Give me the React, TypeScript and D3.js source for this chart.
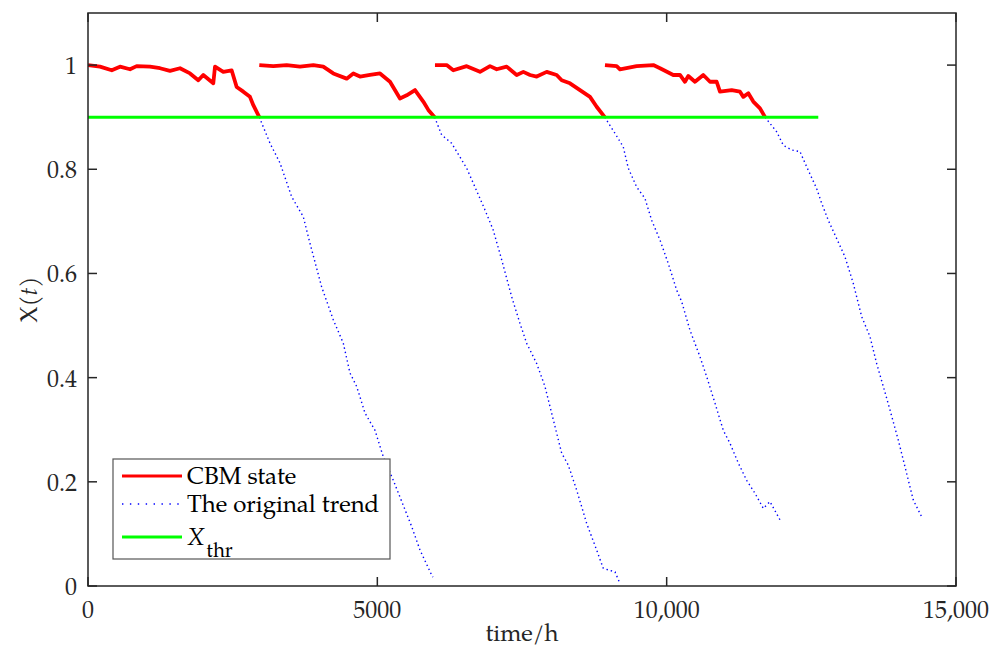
import React from "react";
import * as d3 from "d3";

type P = [number, number];

// CBM state (red), four maintenance cycles
const cbm1: P[] = [[0,1.0],[207,0.997],[410,0.99],[553,0.997],[726,0.992],[841,0.998],[1071,0.997],[1244,0.994],[1417,0.989],[1590,0.994],[1763,0.984],[1906,0.971],[1992,0.981],[2165,0.965],[2195,0.997],[2338,0.987],[2482,0.99],[2569,0.958],[2684,0.949],[2799,0.939],[2857,0.923],[2960,0.9]];
const cbm2: P[] = [[2960,1.0],[3202,0.998],[3433,1.0],[3663,0.997],[3894,1.0],[4066,0.997],[4239,0.984],[4470,0.974],[4585,0.984],[4700,0.978],[4873,0.981],[5046,0.984],[5219,0.968],[5391,0.936],[5507,0.942],[5651,0.952],[5794,0.93],[5881,0.914],[5990,0.9]];
const cbm3: P[] = [[5996,1.0],[6198,1.0],[6313,0.99],[6544,0.998],[6774,0.987],[6947,0.998],[7063,0.992],[7235,0.997],[7408,0.981],[7523,0.987],[7639,0.981],[7754,0.978],[7927,0.987],[8099,0.981],[8186,0.971],[8329,0.965],[8502,0.952],[8675,0.939],[8790,0.92],[8930,0.9]];
const cbm4: P[] = [[8934,1.0],[9136,0.998],[9193,0.992],[9481,0.998],[9769,1.0],[9885,0.994],[10114,0.981],[10230,0.981],[10316,0.968],[10374,0.979],[10489,0.968],[10633,0.981],[10749,0.968],[10864,0.968],[10921,0.949],[11123,0.952],[11267,0.949],[11325,0.939],[11411,0.946],[11497,0.93],[11613,0.917],[11700,0.9]];

// The original trend (blue dotted)
const trend1: P[] = [[2960,0.9],[3145,0.85],[3318,0.812],[3520,0.747],[3720,0.709],[3836,0.658],[4038,0.574],[4239,0.511],[4412,0.466],[4527,0.409],[4643,0.383],[4787,0.332],[4959,0.299],[5103,0.248],[5276,0.203],[5594,0.114],[5737,0.069],[5939,0.021],[5961,0.017]];
const trend2: P[] = [[5990,0.9],[6111,0.866],[6284,0.85],[6544,0.802],[6687,0.766],[6860,0.722],[7004,0.683],[7149,0.626],[7322,0.555],[7465,0.504],[7581,0.466],[7754,0.427],[7897,0.383],[8041,0.319],[8186,0.255],[8300,0.232],[8445,0.184],[8618,0.12],[8790,0.069],[8904,0.034],[9107,0.027],[9193,0.005]];
const trend3: P[] = [[8930,0.9],[9107,0.869],[9250,0.843],[9337,0.802],[9481,0.766],[9625,0.744],[9741,0.702],[9885,0.664],[10028,0.619],[10173,0.568],[10259,0.546],[10403,0.491],[10576,0.44],[10691,0.402],[10835,0.351],[10978,0.299],[11094,0.274],[11238,0.236],[11382,0.203],[11526,0.178],[11670,0.149],[11785,0.162],[11958,0.127]];
const trend4: P[] = [[11700,0.9],[11901,0.872],[12016,0.846],[12160,0.837],[12303,0.834],[12447,0.798],[12592,0.763],[12678,0.735],[12793,0.702],[12909,0.674],[13081,0.632],[13225,0.581],[13370,0.517],[13513,0.479],[13629,0.427],[13744,0.383],[13859,0.338],[14003,0.28],[14118,0.229],[14262,0.165],[14406,0.133]];

// Threshold X_thr
const threshold: P[] = [[0,0.9],[12620,0.9]];

const xTicks = [0, 5000, 10000, 15000];
const xTickLabels = ["0", "5000", "10,000", "15,000"];
const yTicks = [0, 0.2, 0.4, 0.6, 0.8, 1];
const yTickLabels = ["0", "0.2", "0.4", "0.6", "0.8", "1"];

const W = 1001, H = 652;
const L = 88, R = 956, T = 13, B = 586;
const FONT = "'TeX Gyre Pagella'";
const AX = "#262626";
const txt: React.CSSProperties = { fontFamily: FONT, fontSize: "24px" };

export default function App() {
  const x = d3.scaleLinear().domain([0, 15000]).range([L, R]);
  const y = d3.scaleLinear().domain([0, 1.1]).range([B, T]);
  const line = d3.line<P>().x(d => x(d[0])).y(d => y(d[1]));
  const cbm = [cbm1, cbm2, cbm3, cbm4];
  const trends = [trend1, trend2, trend3, trend4];
  const tickLen = 9;

  const lx0 = 122, lx1 = 182, ltx = 187;
  const ly = [476, 504, 537];

  return (
    <svg width={W} height={H} style={{ position: "absolute", left: 0, top: 0, background: "#fff" }}>
      <defs>
        <clipPath id="plot">
          <rect x={L} y={T} width={R - L} height={B - T} />
        </clipPath>
      </defs>
      <rect x={0} y={0} width={W} height={H} fill="#fff" />
      <g clipPath="url(#plot)">
        {trends.map((d, i) => (
          <path key={"t" + i} d={line(d) || ""} fill="none" stroke="#0000ff" strokeWidth={1.4} strokeDasharray="1.4 3" />
        ))}
        {cbm.map((d, i) => (
          <path key={"c" + i} d={line(d) || ""} fill="none" stroke="#ff0000" strokeWidth={3.8} strokeLinejoin="round" />
        ))}
        <path d={line(threshold) || ""} fill="none" stroke="#00ff00" strokeWidth={3} />
      </g>
      <rect x={L} y={T} width={R - L} height={B - T} fill="none" stroke={AX} strokeWidth={1.5} />
      {xTicks.map((t, i) => (
        <g key={"xt" + i}>
          <line x1={x(t)} x2={x(t)} y1={B} y2={B - tickLen} stroke={AX} strokeWidth={1.5} />
          <line x1={x(t)} x2={x(t)} y1={T} y2={T + tickLen} stroke={AX} strokeWidth={1.5} />
          <text x={x(t)} y={618} textAnchor="middle" style={txt} fill={AX}>{xTickLabels[i]}</text>
        </g>
      ))}
      {yTicks.map((t, i) => (
        <g key={"yt" + i}>
          <line x1={L} x2={L + tickLen} y1={y(t)} y2={y(t)} stroke={AX} strokeWidth={1.5} />
          <line x1={R} x2={R - tickLen} y1={y(t)} y2={y(t)} stroke={AX} strokeWidth={1.5} />
          <text x={77} y={y(t) + 9} textAnchor="end" style={txt} fill={AX}>{yTickLabels[i]}</text>
        </g>
      ))}
      <text x={522} y={641} textAnchor="middle" style={txt} fill={AX}>time/h</text>
      <text transform={`translate(37,${(T + B) / 2}) rotate(-90)`} textAnchor="middle" style={txt} fill={AX}>
        X(<tspan style={{ fontStyle: "italic" }}>t</tspan>)
      </text>
      <rect x={113} y={459} width={277} height={100} fill="#fff" stroke="#555" strokeWidth={1.2} />
      <line x1={lx0} x2={lx1} y1={ly[0]} y2={ly[0]} stroke="#ff0000" strokeWidth={3} />
      <line x1={lx0} x2={lx1} y1={ly[1]} y2={ly[1]} stroke="#0000ff" strokeWidth={1.4} strokeDasharray="1.4 6.5" />
      <line x1={lx0} x2={lx1} y1={ly[2]} y2={ly[2]} stroke="#00ff00" strokeWidth={3} />
      <text x={ltx} y={ly[0] + 8} style={txt} fill="#000">CBM state</text>
      <text x={ltx} y={ly[1] + 8} style={txt} fill="#000">The original trend</text>
      <text x={ltx} y={ly[2] + 8} style={txt} fill="#000">
        <tspan style={{ fontStyle: "italic" }}>X</tspan>
        <tspan style={{ fontSize: "20px" }} dy={12} dx={2}>thr</tspan>
      </text>
    </svg>
  );
}
